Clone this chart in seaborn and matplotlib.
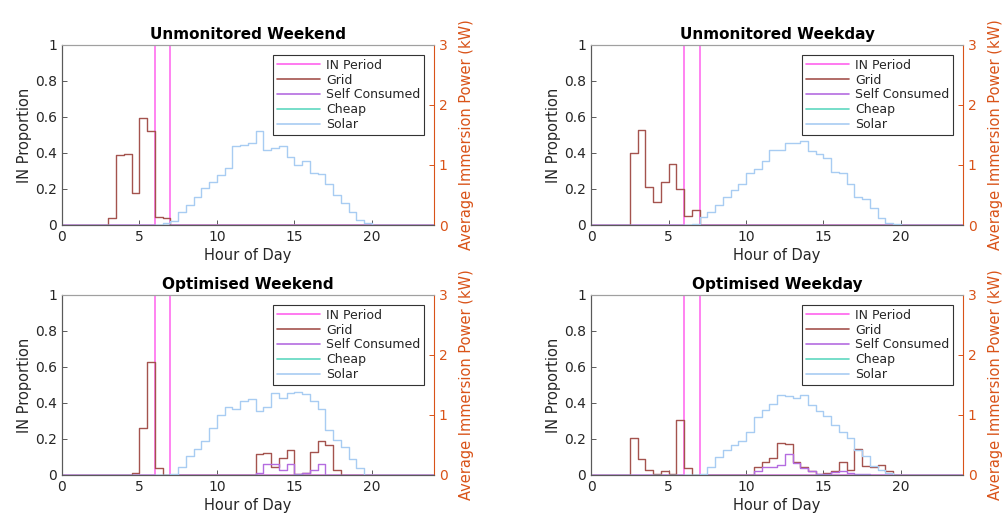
import numpy as np
import pandas as pd
import matplotlib
matplotlib.use("Agg")
import matplotlib.pyplot as plt
import seaborn as sns
from matplotlib.lines import Line2D

sns.set_theme(style="ticks")
plt.rcParams['font.family'] = ['DejaVu Sans']
plt.rcParams['xtick.direction'] = 'in'
plt.rcParams['ytick.direction'] = 'in'

# ---------------- data ----------------
STEP = 0.5  # half-hourly stairs
series_order = ["Grid", "Self Consumed", "Cheap", "Solar"]

# IN period proportion (left axis): (start hour, values)
in_period = [(6.0, [1, 1])]

# Average immersion power (kW, right axis): lists of (start hour, values)
uwe_grid = [(3.0, [0.11, 1.16, 1.19, 0.54, 1.78, 1.57, 0.14, 0.11])]
uwe_self = []
uwe_cheap = []
uwe_solar = [(6.5, [0.03, 0.06, 0.21, 0.33, 0.47, 0.61, 0.71, 0.83, 0.95, 1.31, 1.33, 1.37,
                    1.57, 1.25, 1.29, 1.31, 1.14, 1.00, 1.06, 0.86, 0.85, 0.69, 0.50, 0.36,
                    0.21, 0.08, 0.03])]

uwd_grid = [(2.5, [1.20, 1.59, 0.64, 0.39, 0.72, 1.01, 0.60, 0.15, 0.25])]
uwd_self = []
uwd_cheap = []
uwd_solar = [(6.5, [0.01, 0.13, 0.22, 0.33, 0.47, 0.59, 0.69, 0.86, 0.93, 1.06, 1.25, 1.25,
                    1.36, 1.36, 1.40, 1.24, 1.19, 1.11, 0.89, 0.86, 0.69, 0.47, 0.44, 0.28,
                    0.11, 0.04, 0.01])]

owe_grid = [(4.5, [0.03, 0.79, 1.88, 0.11]),
            (12.5, [0.35, 0.37, 0.14, 0.29, 0.42, 0.02, 0.04, 0.38, 0.57, 0.50, 0.08])]
owe_self = [(12.5, [0.03, 0.18, 0.18, 0.09, 0.18, 0.01, 0.03, 0.09, 0.18, 0.0])]
owe_cheap = []
owe_solar = [(7.0, [0.02, 0.13, 0.32, 0.44, 0.56, 0.78, 1.00, 1.14, 1.10, 1.24, 1.27, 1.06,
                    1.14, 1.36, 1.28, 1.37, 1.38, 1.35, 1.24, 1.10, 0.75, 0.58, 0.46, 0.26,
                    0.11])]

owd_grid = [(2.5, [0.61, 0.26, 0.08, 0.01, 0.07, 0.02, 0.92, 0.11]),
            (10.5, [0.13, 0.21, 0.28, 0.54, 0.51, 0.21, 0.14, 0.07, 0.02, 0.04, 0.07, 0.22,
                    0.08, 0.43, 0.15, 0.14, 0.17, 0.07])]
owd_self = [(10.5, [0.07, 0.13, 0.14, 0.17, 0.35, 0.20, 0.11, 0.06, 0.02, 0.02, 0.05, 0.07,
                    0.03, 0.02, 0.01])]
owd_cheap = []
owd_solar = [(7.0, [0.02, 0.14, 0.30, 0.42, 0.50, 0.56, 0.72, 0.96, 1.08, 1.19, 1.33, 1.31,
                    1.29, 1.33, 1.17, 1.06, 0.98, 0.83, 0.71, 0.61, 0.41, 0.31, 0.15, 0.08,
                    0.03])]

titles = ["Unmonitored Weekend", "Unmonitored Weekday", "Optimised Weekend", "Optimised Weekday"]
panels = [
    {"Grid": uwe_grid, "Self Consumed": uwe_self, "Cheap": uwe_cheap, "Solar": uwe_solar},
    {"Grid": uwd_grid, "Self Consumed": uwd_self, "Cheap": uwd_cheap, "Solar": uwd_solar},
    {"Grid": owe_grid, "Self Consumed": owe_self, "Cheap": owe_cheap, "Solar": owe_solar},
    {"Grid": owd_grid, "Self Consumed": owd_self, "Cheap": owd_cheap, "Solar": owd_solar},
]
x_ticks = [0, 5, 10, 15, 20]
left_ticks = [0, 0.2, 0.4, 0.6, 0.8, 1]
right_ticks = [0, 1, 2, 3]

# ---------------- style ----------------
colors = {
    "IN Period": "#ff62ee",
    "Grid": "#a4534e",
    "Self Consumed": "#b46ce0",
    "Cheap": "#5fd8c0",
    "Solar": "#a8ccf2",
}
ORANGE = "#D95319"
AXC = "#5a5a5a"
TXT = "#262626"

hour_edges = np.arange(0, 24 + STEP, STEP)
n_slots = len(hour_edges) - 1


def expand(segments):
    arr = np.zeros(n_slots)
    for start, vals in segments:
        i = int(round(start / STEP))
        arr[i:i + len(vals)] = vals
    return np.append(arr, arr[-1])


fig = plt.figure(figsize=(10.03, 5.19), dpi=100)
W, H = 1003, 519
positions = [(62, 45), (591, 45), (62, 295), (591, 295)]
aw, ah = 372, 180

for k, (title, pdata) in enumerate(zip(titles, panels)):
    px, py = positions[k]
    ax = fig.add_axes([px / W, 1 - (py + ah) / H, aw / W, ah / H])
    ax2 = ax.twinx()

    df_in = pd.DataFrame({"hour": hour_edges, "value": expand(in_period)})
    sns.lineplot(data=df_in, x="hour", y="value", color=colors["IN Period"],
                 drawstyle="steps-post", lw=1.1, ax=ax, legend=False,
                 estimator=None, errorbar=None)

    frames = []
    for s in series_order:
        frames.append(pd.DataFrame({"hour": hour_edges, "kW": expand(pdata[s]), "series": s}))
    df = pd.concat(frames, ignore_index=True)
    sns.lineplot(data=df, x="hour", y="kW", hue="series", hue_order=series_order,
                 palette=colors, drawstyle="steps-post", lw=1.0, ax=ax2,
                 legend=False, estimator=None, errorbar=None)

    ax.set_xlim(0, 24)
    ax.set_ylim(0, 1)
    ax2.set_ylim(0, 3)
    ax.set_xticks(x_ticks)
    ax.set_yticks(left_ticks)
    ax.set_yticklabels([f"{t:g}" for t in left_ticks])
    ax2.set_yticks(right_ticks)

    ax.set_xlabel("Hour of Day", fontsize=10.5, color=TXT, labelpad=3)
    ax.set_ylabel("IN Proportion", fontsize=10.5, color=TXT, labelpad=2)
    ax2.set_ylabel("Average Immersion Power (kW)", fontsize=10.5, color=ORANGE, labelpad=8)
    ax.set_title(title, fontsize=11, fontweight="bold", color="black", pad=4)

    ax.tick_params(axis="both", labelsize=10, colors=AXC, labelcolor=TXT, length=3.5, width=0.7,
                   top=False, right=False)
    ax2.tick_params(axis="y", labelsize=10, colors=ORANGE, labelcolor=ORANGE, length=3.5, width=0.7)

    for a in (ax, ax2):
        for side in ("left", "top", "bottom"):
            a.spines[side].set_color(AXC)
            a.spines[side].set_linewidth(0.8)
    ax2.spines["top"].set_color("#a0a0a0")
    ax.spines["top"].set_color("#a0a0a0")
    ax2.spines["right"].set_color(ORANGE)
    ax2.spines["right"].set_linewidth(0.8)
    ax.spines["right"].set_visible(False)

    handles = [Line2D([0], [0], color=colors[n], lw=1.2) for n in ["IN Period"] + series_order]
    leg = ax2.legend(handles, ["IN Period"] + series_order, loc="upper right",
                     fontsize=9, frameon=True, fancybox=False, framealpha=1,
                     edgecolor="#333333", borderaxespad=0.8, borderpad=0.3,
                     labelspacing=0.15, handlelength=3.4, handletextpad=0.5)
    leg.get_frame().set_linewidth(0.8)
    for t in leg.get_texts():
        t.set_color(TXT)

fig.savefig("out.png", dpi=100)
